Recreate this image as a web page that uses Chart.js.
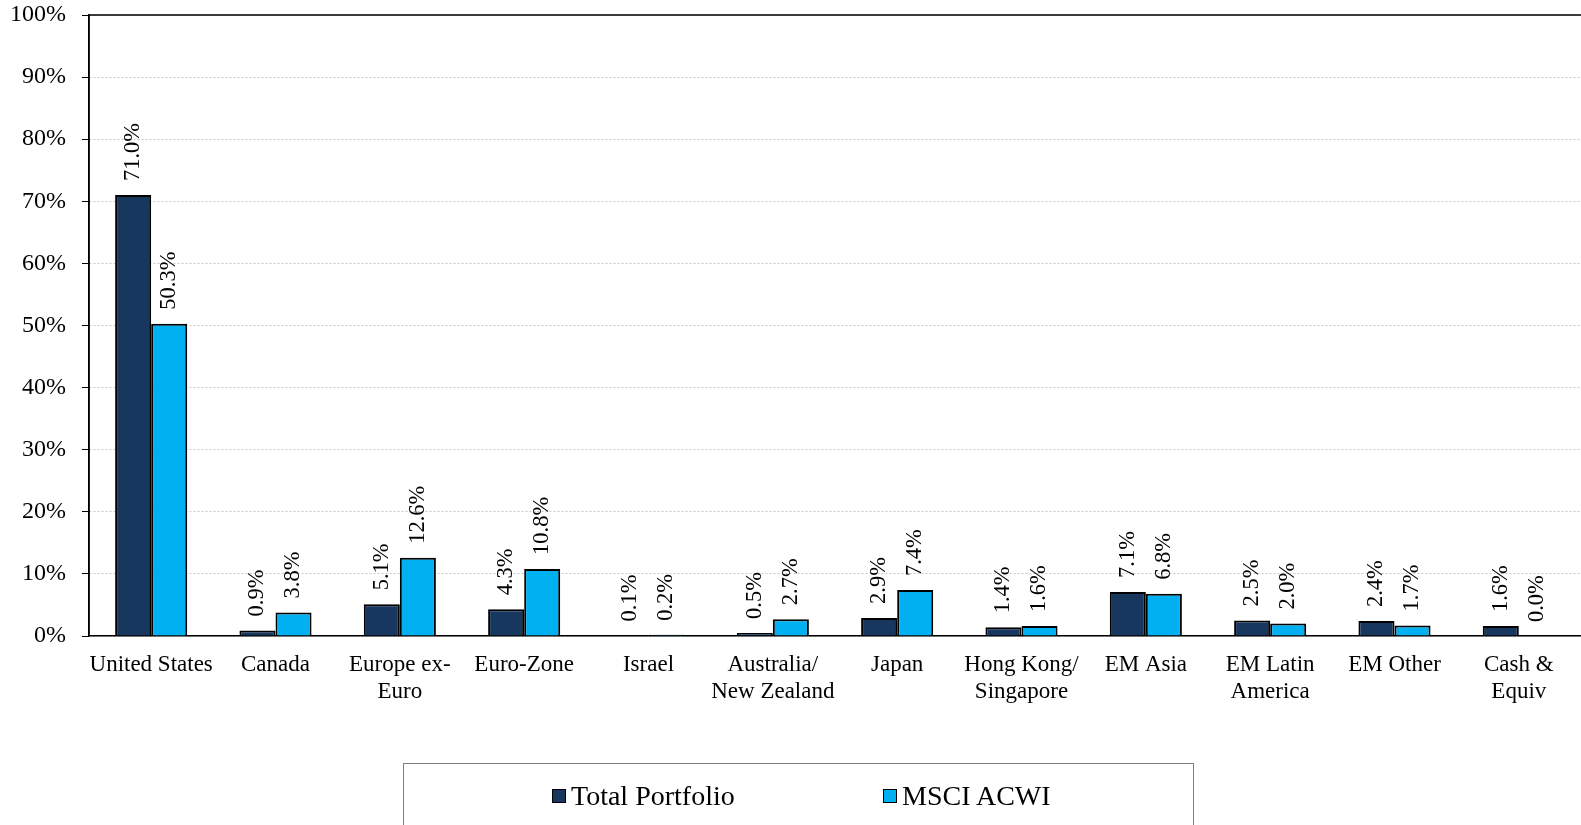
<!DOCTYPE html>
<html>
<head>
<meta charset="utf-8">
<script src="https://cdn.jsdelivr.net/npm/chart.js@4"></script>
<style>
  body { margin: 0; background: #fff; overflow: hidden; }
  #wrap { position: relative; width: 1581px; height: 825px; }
  #legend {
    position: absolute; left: 403px; top: 763px; width: 789px; height: 100px;
    border: 1px solid #7f7f7f; font-family: "Liberation Serif", serif; font-size: 28px; color: #000;
  }
  .item { position: absolute; top: 16px; display: flex; align-items: center; }
  .sw { width: 12px; height: 12px; border: 1.5px solid #000; margin-right: 5px; }
</style>
</head>
<body>
<div id="wrap">
  <canvas id="chart" width="1581" height="825"></canvas>
  <div id="legend">
    <div class="item" style="left:148px"><span class="sw" style="background:#17375E"></span>Total Portfolio</div>
    <div class="item" style="left:479px"><span class="sw" style="background:#00B0F0"></span>MSCI ACWI</div>
  </div>
</div>
<script>
// categories and values (percent)
const regions = [
  ['United States'], ['Canada'], ['Europe ex-', 'Euro'], ['Euro-Zone'], ['Israel'],
  ['Australia/', 'New Zealand'], ['Japan'], ['Hong Kong/', 'Singapore'], ['EM Asia'],
  ['EM Latin', 'America'], ['EM Other'], ['Cash &', 'Equiv']
];
const totalPortfolio = [71.0, 0.9, 5.1, 4.3, 0.1, 0.5, 2.9, 1.4, 7.1, 2.5, 2.4, 1.6];
const msciAcwi = [50.3, 3.8, 12.6, 10.8, 0.2, 2.7, 7.4, 1.6, 6.8, 2.0, 1.7, 0.0];
const yTicks = [0, 10, 20, 30, 40, 50, 60, 70, 80, 90, 100];

const serif = '"Liberation Serif", "Times New Roman", serif';

// rotated value labels above each bar
const valueLabels = {
  id: 'valueLabels',
  afterDatasetsDraw(chart) {
    const ctx = chart.ctx;
    ctx.save();
    ctx.font = '22.5px ' + serif;
    ctx.fillStyle = '#000';
    ctx.textAlign = 'left';
    ctx.textBaseline = 'middle';
    chart.data.datasets.forEach((ds, i) => {
      chart.getDatasetMeta(i).data.forEach((bar, j) => {
        ctx.save();
        ctx.translate(bar.x, bar.y - 14);
        ctx.rotate(-Math.PI / 2);
        ctx.fillText(ds.data[j].toFixed(1) + '%', 0, 0);
        ctx.restore();
      });
    });
    ctx.restore();
  }
};

// solid black frame lines (top and left) over the dotted grid
const frame = {
  id: 'frame',
  afterDraw(chart) {
    const { ctx, chartArea } = chart;
    ctx.save();
    ctx.strokeStyle = '#000';
    ctx.lineWidth = 1.5;
    ctx.setLineDash([]);
    ctx.beginPath();
    ctx.moveTo(chartArea.left, chartArea.bottom);
    ctx.lineTo(chartArea.left, chartArea.top);
    ctx.lineTo(chartArea.right, chartArea.top);
    ctx.stroke();
    ctx.restore();
  }
};

new Chart(document.getElementById('chart'), {
  type: 'bar',
  data: {
    labels: regions,
    datasets: [
      { label: 'Total Portfolio', data: totalPortfolio, backgroundColor: '#17375E', borderColor: '#000', borderWidth: 2 },
      { label: 'MSCI ACWI', data: msciAcwi, backgroundColor: '#00B0F0', borderColor: '#000', borderWidth: 2 }
    ]
  },
  options: {
    responsive: false,
    animation: false,
    layout: { padding: { top: 15, right: 0, left: 0, bottom: 0 } },
    categoryPercentage: 0.58,
    barPercentage: 1.0,
    plugins: { legend: { display: false }, tooltip: { enabled: false } },
    scales: {
      x: {
        grid: { display: false },
        border: { display: true, color: '#000', width: 1.5 },
        ticks: { color: '#000', font: { family: serif, size: 23 }, padding: 7, maxRotation: 0, autoSkip: false },
        afterFit(scale) { scale.height = 189; }
      },
      y: {
        min: 0, max: 100,
        afterBuildTicks(scale) { scale.ticks = yTicks.map(v => ({ value: v })); },
        grid: { color: '#c8c8c8', tickColor: '#000', tickBorderDash: [], tickLength: 7, lineWidth: 1 },
        border: { display: true, color: '#000', width: 1.5, dash: [2, 2] },
        ticks: { color: '#000', font: { family: serif, size: 24 }, padding: 16, callback: v => v + '%' },
        afterFit(scale) { scale.width = 89; scale.paddingTop = 0; scale.paddingBottom = 0; }
      }
    }
  },
  plugins: [valueLabels, frame]
});
</script>
</body>
</html>
